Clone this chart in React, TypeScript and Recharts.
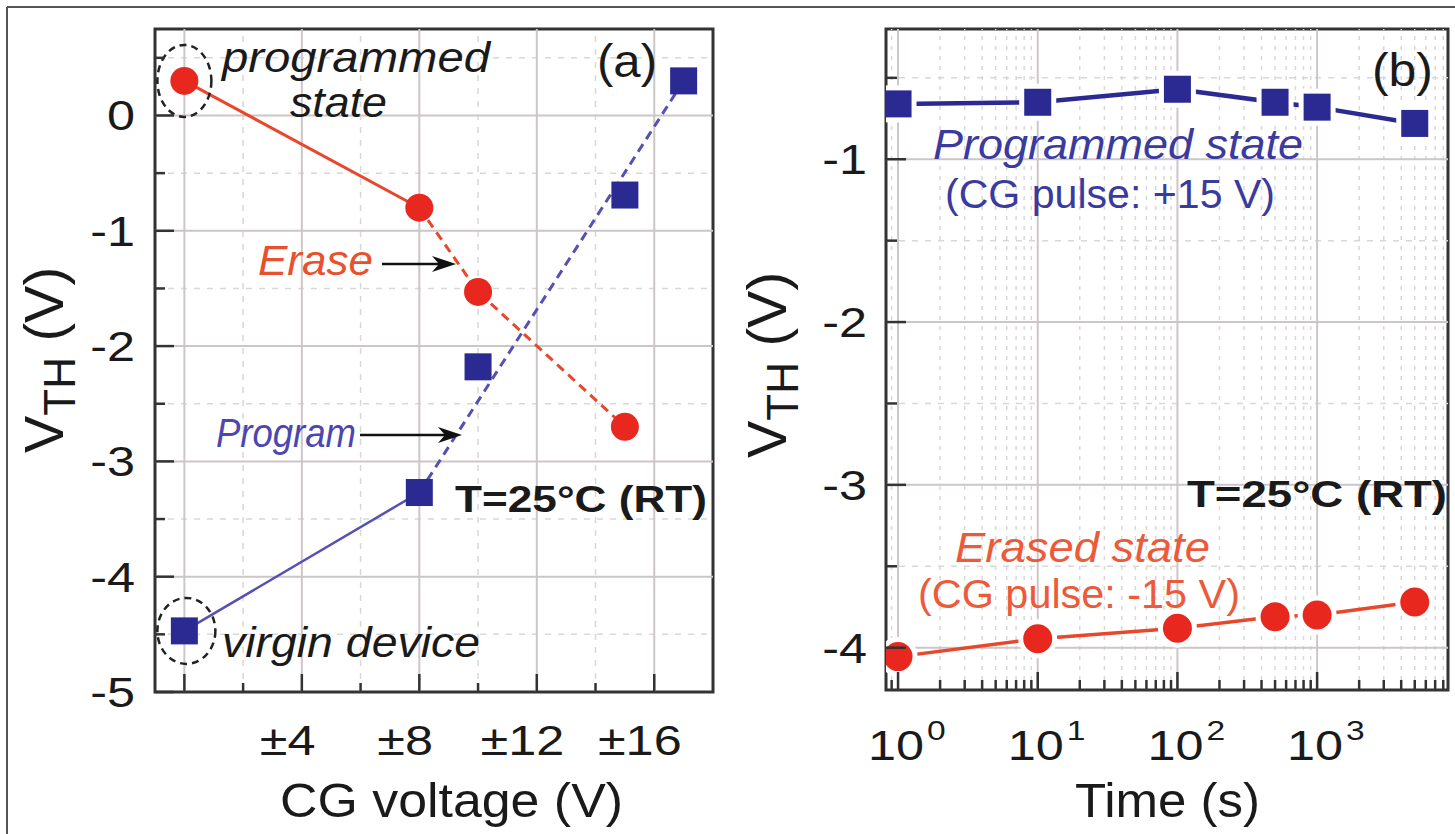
import { ComposedChart, Line, XAxis, YAxis, ReferenceLine, ReferenceArea, ReferenceDot } from 'recharts'

const FONT = '"Liberation Sans", Arial, sans-serif'

// panel (a): V_TH vs CG voltage
const cgVoltage = [0, 8, 10, 15]
const eraseVth = [0.3, -0.8, -1.53, -2.7]
const programVoltage = [0, 8, 10, 15, 17]
const programVth = [-4.47, -3.27, -2.18, -0.69, 0.3]
const voltageTicks = [0, 2, 4, 6, 8, 10, 12, 14, 16]
const voltageLabelled = [4, 8, 12, 16]
const vthTicksA = [-5, -4.5, -4, -3.5, -3, -2.5, -2, -1.5, -1, -0.5, 0, 0.5]

// panel (b): retention
const retentionTime = [1, 10, 100, 500, 1000, 5000]
const programmedVth = [-0.66, -0.65, -0.57, -0.65, -0.68, -0.78]
const erasedVth = [-4.055, -3.945, -3.88, -3.81, -3.8, -3.72]
const timeDecades = [1, 10, 100, 1000]
const timeExponents = ['0', '1', '2', '3']
const timeMinor = [
  0.9, 2, 3, 4, 5, 6, 7, 8, 9, 20, 30, 40, 50, 60, 70, 80, 90,
  200, 300, 400, 500, 600, 700, 800, 900, 2000, 3000, 4000, 5000, 6000, 7000, 8000,
]
const vthTicksB = [-4, -3.5, -3, -2.5, -2, -1.5, -1, -0.5]

const BLUE = '#2b2a92'
const RED = '#e8281e'
const RED_LINE = '#e8472c'
const BLUE_LINE = '#5550b4'
const AXIS = '#333'
const GRID = '#cdc6c6'
const GRID_MINOR = '#d8d8d8'

const pts = (xs: number[], ys: number[]) => xs.map((x, i) => ({ x, y: ys[i] }))

const eraseSolid = pts(cgVoltage.slice(0, 2), eraseVth.slice(0, 2))
const eraseDashed = pts(cgVoltage.slice(1), eraseVth.slice(1))
const eraseAll = pts(cgVoltage, eraseVth)
const programSolid = pts(programVoltage.slice(0, 2), programVth.slice(0, 2))
const programDashed = pts([programVoltage[1], programVoltage[4]], [programVth[1], programVth[4]])
const programAll = pts(programVoltage, programVth)
const programmedRet = pts(retentionTime, programmedVth)
const erasedRet = pts(retentionTime, erasedVth)

function SText({ x, y, size, anchor = 'start', sx = 1.2, children }: any) {
  return (
    <text
      transform={`translate(${x},${y}) scale(${sx},1)`}
      textAnchor={anchor}
      fontSize={size}
      fontFamily={FONT}
      fill="#1a1a1a"
    >
      {children}
    </text>
  )
}

const square = (size: number, outline: number) => (p: any) => {
  if (p.cx == null || p.cy == null) return <g key={p.index} />
  return (
    <rect
      key={p.index}
      x={p.cx - size / 2}
      y={p.cy - size / 2}
      width={size}
      height={size}
      fill={BLUE}
      stroke={outline ? '#fff' : 'none'}
      strokeWidth={outline}
      paintOrder="stroke"
    />
  )
}

const circle = (r: number, outline: number) => (p: any) => {
  if (p.cx == null || p.cy == null) return <g key={p.index} />
  return (
    <circle
      key={p.index}
      cx={p.cx}
      cy={p.cy}
      r={r}
      fill={RED}
      stroke={outline ? '#fff' : 'none'}
      strokeWidth={outline}
      paintOrder="stroke"
    />
  )
}

function TickA_Y({ x, y, payload }: any) {
  const v = payload.value
  const major = Number.isInteger(v)
  return (
    <g>
      <line x1={x} x2={x + (major ? 19 : 10)} y1={y} y2={y} stroke={AXIS} strokeWidth={2.5} />
      {major && <SText x={x - 20} y={y + 15} size={42} anchor="end">{String(v)}</SText>}
    </g>
  )
}

function TickA_X({ x, y, payload }: any) {
  const v = payload.value
  const major = v % 4 === 0
  const labelled = voltageLabelled.includes(v)
  return (
    <g>
      <line x1={x} x2={x} y1={y} y2={y - (major ? 18 : 9)} stroke={AXIS} strokeWidth={2.5} />
      {labelled && (
        <SText x={x + String(v).length * 13.7} y={y + 63} size={42} anchor="end">{'±' + v}</SText>
      )}
    </g>
  )
}

function TickB_Y({ x, y, payload }: any) {
  const v = payload.value
  const major = Number.isInteger(v)
  return (
    <g>
      <line x1={x} x2={x + (major ? 20 : 11)} y1={y} y2={y} stroke={AXIS} strokeWidth={2.5} />
      {major && <SText x={x - 19} y={y + 15} size={42} anchor="end">{String(v)}</SText>}
    </g>
  )
}

function TickB_X({ x, y, payload }: any) {
  const v = payload.value
  const i = timeDecades.indexOf(v)
  const major = i >= 0
  return (
    <g>
      <line x1={x} x2={x} y1={y} y2={y - (major ? 18 : 10)} stroke={AXIS} strokeWidth={2.5} />
      {major && (
        <g>
          <SText x={x - 2} y={y + 70} size={42} anchor="middle">10</SText>
          <SText x={x + 29} y={y + 50} size={28}>{timeExponents[i]}</SText>
        </g>
      )}
    </g>
  )
}

function Arrow({ x1, x2, y }: any) {
  return (
    <g>
      <line x1={x1} x2={x2 - 12} y1={y} y2={y} stroke="#111" strokeWidth={2.5} />
      <polygon points={`${x2},${y} ${x2 - 24},${y - 8} ${x2 - 17},${y} ${x2 - 24},${y + 8}`} fill="#111" />
    </g>
  )
}

function Label({ x, y, len, size, italic, bold, color = '#1a1a1a', children }: any) {
  return (
    <text
      x={x}
      y={y}
      fontSize={size}
      fontFamily={FONT}
      fontStyle={italic ? 'italic' : 'normal'}
      fontWeight={bold ? 'bold' : 'normal'}
      fill={color}
      textLength={len}
      lengthAdjust="spacingAndGlyphs"
    >
      {children}
    </text>
  )
}

function VthTitle({ x, y }: any) {
  return (
    <text transform={`translate(${x},${y}) rotate(-90)`} textAnchor="middle" fontFamily={FONT} fontSize={56} fill="#1a1a1a">
      V
      <tspan fontSize={44} dy={12}>TH</tspan>
      <tspan dy={-12}> (V)</tspan>
    </text>
  )
}

function PanelA() {
  return (
    <ComposedChart width={780} height={834} margin={{ top: 29, right: 67, bottom: 141, left: 154 }}>
      <XAxis
        type="number"
        dataKey="x"
        domain={[-1, 18]}
        allowDataOverflow
        ticks={voltageTicks}
        interval={0}
        tickSize={0}
        tickMargin={0}
        tickLine={false}
        axisLine={false}
        height={1}
        tick={<TickA_X />}
      />
      <YAxis
        type="number"
        domain={[-5, 0.75]}
        allowDataOverflow
        ticks={vthTicksA}
        interval={0}
        tickSize={0}
        tickMargin={0}
        tickLine={false}
        axisLine={false}
        width={1}
        tick={<TickA_Y />}
      />
      {voltageTicks.filter((v) => v % 4 !== 0).map((v) => (
        <ReferenceLine key={'vm' + v} x={v} stroke={GRID_MINOR} strokeWidth={1.5} strokeDasharray="6 7" />
      ))}
      {vthTicksA.filter((v) => !Number.isInteger(v)).map((v) => (
        <ReferenceLine key={'hm' + v} y={v} stroke={GRID_MINOR} strokeWidth={1.5} strokeDasharray="6 7" />
      ))}
      {voltageTicks.filter((v) => v % 4 === 0).map((v) => (
        <ReferenceLine key={'v' + v} x={v} stroke={GRID} strokeWidth={2} />
      ))}
      {vthTicksA.filter((v) => Number.isInteger(v) && v > -5).map((v) => (
        <ReferenceLine key={'h' + v} y={v} stroke={GRID} strokeWidth={2} />
      ))}
      <ReferenceArea x1={-1} x2={18} y1={-5} y2={0.75} fill="none" stroke={AXIS} strokeWidth={3} />
      <ReferenceDot
        x={cgVoltage[0]}
        y={eraseVth[0]}
        shape={(p: any) => (
          <ellipse cx={p.cx} cy={p.cy} rx={27} ry={36} fill="none" stroke="#222" strokeWidth={2.5} strokeDasharray="7 5" />
        )}
      />
      <ReferenceDot
        x={programVoltage[0]}
        y={programVth[0]}
        shape={(p: any) => (
          <ellipse cx={p.cx + 2} cy={p.cy} rx={29} ry={33} fill="none" stroke="#222" strokeWidth={2.5} strokeDasharray="7 5" />
        )}
      />
      <Line data={eraseSolid} dataKey="y" stroke={RED_LINE} strokeWidth={3} dot={false} activeDot={false} isAnimationActive={false} />
      <Line data={eraseDashed} dataKey="y" stroke={RED_LINE} strokeWidth={3} strokeDasharray="9 6" dot={false} activeDot={false} isAnimationActive={false} />
      <Line data={programSolid} dataKey="y" stroke={BLUE_LINE} strokeWidth={2.5} dot={false} activeDot={false} isAnimationActive={false} />
      <Line data={programDashed} dataKey="y" stroke={BLUE_LINE} strokeWidth={3} strokeDasharray="9 6" dot={false} activeDot={false} isAnimationActive={false} />
      <Line data={eraseAll} dataKey="y" stroke="none" dot={circle(14, 0)} activeDot={false} isAnimationActive={false} />
      <Line data={programAll} dataKey="y" stroke="none" dot={square(27, 0)} activeDot={false} isAnimationActive={false} />
    </ComposedChart>
  )
}

function PanelB() {
  return (
    <ComposedChart width={675} height={834} margin={{ top: 29, right: 7, bottom: 143, left: 105 }}>
      <XAxis
        type="number"
        dataKey="x"
        scale="log"
        domain={[0.82, 8650]}
        allowDataOverflow
        ticks={[...timeMinor, ...timeDecades].sort((a, b) => a - b)}
        interval={0}
        tickSize={0}
        tickMargin={0}
        tickLine={false}
        axisLine={false}
        height={1}
        tick={<TickB_X />}
      />
      <YAxis
        type="number"
        domain={[-4.26, -0.2]}
        allowDataOverflow
        ticks={vthTicksB}
        interval={0}
        tickSize={0}
        tickMargin={0}
        tickLine={false}
        axisLine={false}
        width={1}
        tick={<TickB_Y />}
      />
      {timeMinor.map((v) => (
        <ReferenceLine key={'vm' + v} x={v} stroke={GRID_MINOR} strokeWidth={1.5} strokeDasharray="4 6" />
      ))}
      {vthTicksB.filter((v) => !Number.isInteger(v)).map((v) => (
        <ReferenceLine key={'hm' + v} y={v} stroke={GRID_MINOR} strokeWidth={1.5} strokeDasharray="6 7" />
      ))}
      {timeDecades.map((v) => (
        <ReferenceLine key={'v' + v} x={v} stroke={GRID} strokeWidth={2} />
      ))}
      {vthTicksB.filter((v) => Number.isInteger(v)).map((v) => (
        <ReferenceLine key={'h' + v} y={v} stroke={GRID} strokeWidth={2} />
      ))}
      <ReferenceArea x1={0.82} x2={8650} y1={-4.26} y2={-0.2} fill="none" stroke={AXIS} strokeWidth={3} />
      <Line data={programmedRet} dataKey="y" stroke={BLUE} strokeWidth={4.5} dot={false} activeDot={false} isAnimationActive={false} />
      <Line data={erasedRet} dataKey="y" stroke={RED_LINE} strokeWidth={3.5} dot={false} activeDot={false} isAnimationActive={false} />
      <Line data={programmedRet} dataKey="y" stroke="none" dot={square(27, 10)} activeDot={false} isAnimationActive={false} />
      <Line data={erasedRet} dataKey="y" stroke="none" dot={circle(14.5, 10)} activeDot={false} isAnimationActive={false} />
    </ComposedChart>
  )
}

export default function App() {
  return (
    <div style={{ position: 'absolute', left: 0, top: 0, width: 1455, height: 834, background: '#fff', fontFamily: FONT }}>
      <div style={{ position: 'absolute', left: 0, top: 0 }}>
        <PanelA />
      </div>
      <div style={{ position: 'absolute', left: 780, top: 0 }}>
        <PanelB />
      </div>
      <svg width={1455} height={834} style={{ position: 'absolute', left: 0, top: 0, pointerEvents: 'none' }}>
        <line x1={7} x2={1455} y1={7} y2={7} stroke="#555" strokeWidth={2} />
        <line x1={7} x2={7} y1={7} y2={834} stroke="#555" strokeWidth={2} />

        <VthTitle x={63} y={360} />
        <Label x={280} y={817} len={343} size={48}>CG voltage (V)</Label>
        <Label x={222} y={72} len={268} size={42} italic>programmed</Label>
        <Label x={290} y={117} len={97} size={42} italic>state</Label>
        <Label x={597} y={77} len={60} size={46}>(a)</Label>
        <Label x={258} y={275} len={115} size={43} italic color="#e8502e">Erase</Label>
        <Arrow x1={382} x2={456} y={264} />
        <Label x={216} y={447} len={140} size={40} italic color="#4b46b0">Program</Label>
        <Arrow x1={360} x2={462} y={435} />
        <Label x={455} y={512} len={252} size={37} bold>T=25°C (RT)</Label>
        <Label x={222} y={657} len={258} size={42} italic>virgin device</Label>

        <VthTitle x={786} y={365} />
        <Label x={1075} y={817} len={185} size={48}>Time (s)</Label>
        <Label x={1372} y={86} len={61} size={46}>(b)</Label>
        <Label x={933} y={159} len={370} size={42} italic color="#3b3a9e">Programmed state</Label>
        <Label x={945} y={208} len={330} size={40} color="#3b3a9e">(CG pulse: +15 V)</Label>
        <Label x={1187} y={507} len={260} size={37} bold>T=25°C (RT)</Label>
        <Label x={955} y={562} len={255} size={42} italic color="#ec5a3a">Erased state</Label>
        <Label x={918} y={608} len={322} size={40} color="#ec5a3a">(CG pulse: -15 V)</Label>
      </svg>
    </div>
  )
}
